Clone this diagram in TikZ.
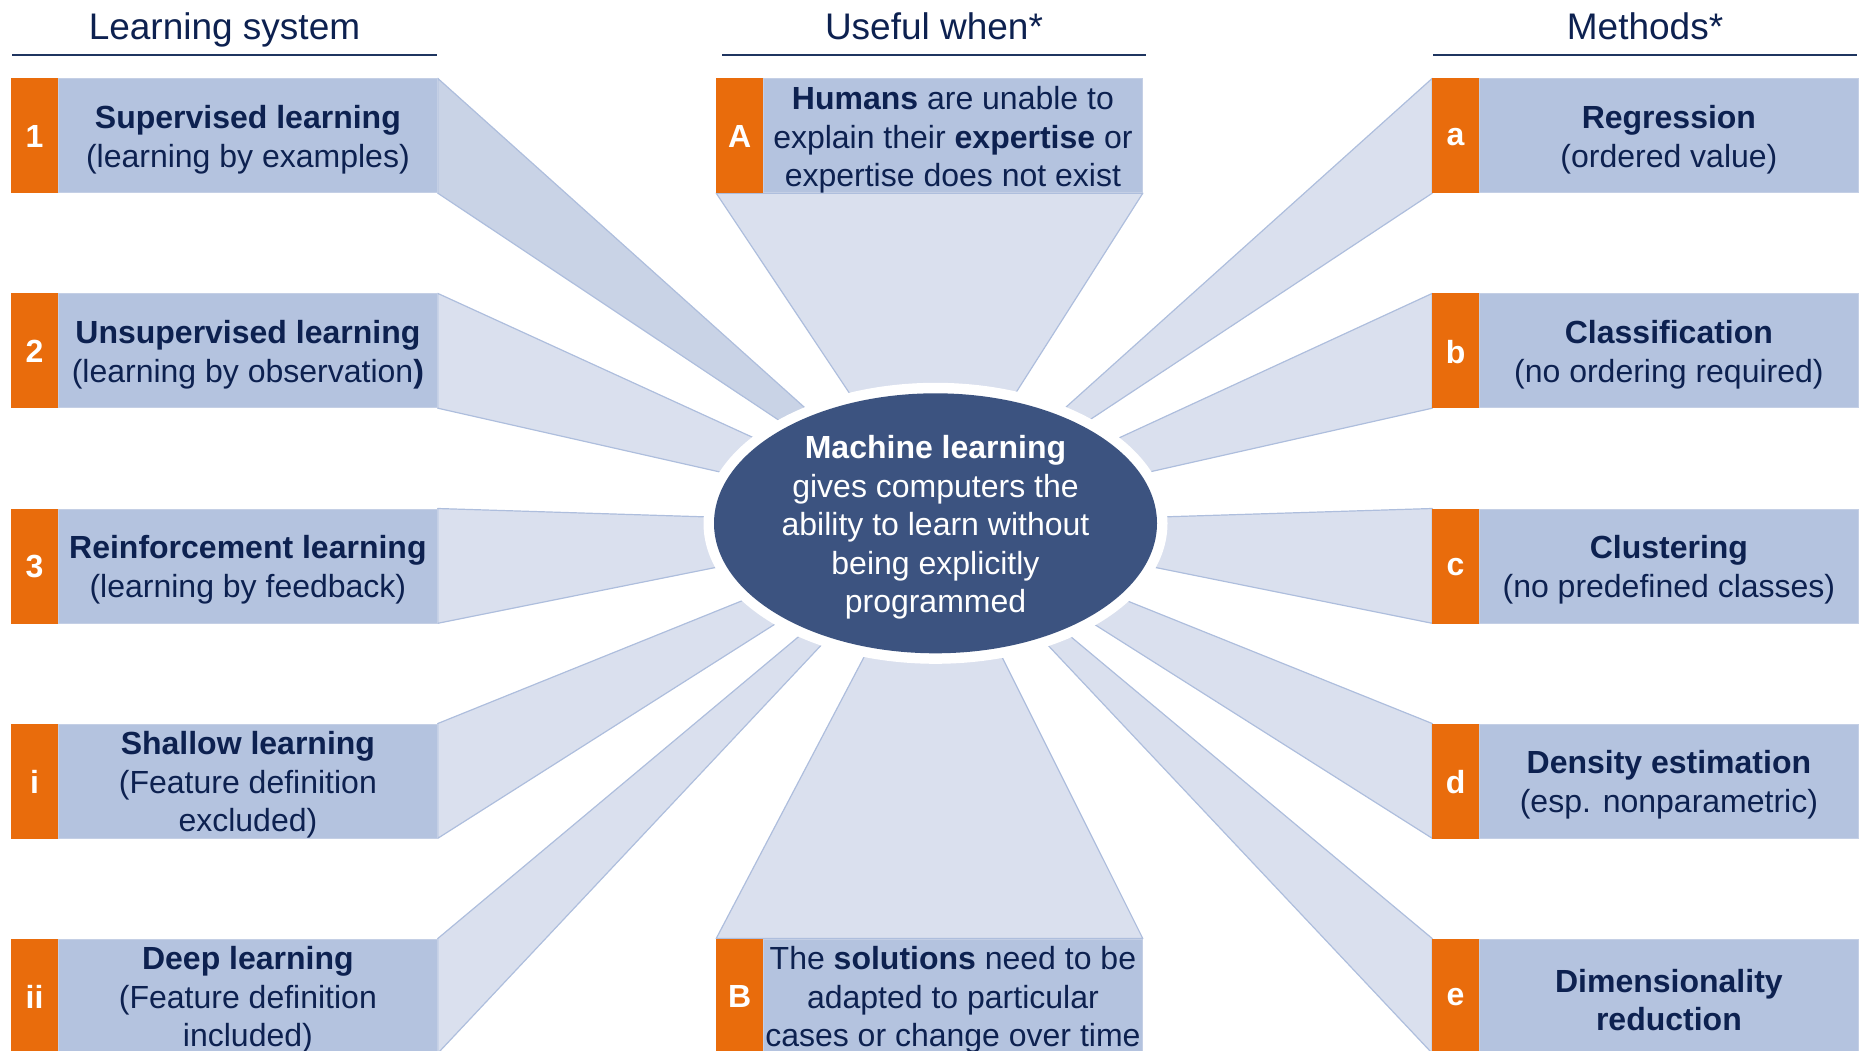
\documentclass[tikz,border=0pt]{standalone}
\usepackage{fontspec}
\setmainfont{Liberation Sans}
\usetikzlibrary{calc}

\definecolor{navy}{HTML}{0D2150}
\definecolor{rulecol}{HTML}{1F3560}
\definecolor{boxfill}{HTML}{B4C3DF}
\definecolor{boxedge}{HTML}{C4CFE5}
\definecolor{tagcol}{HTML}{E96C0C}
\definecolor{rayfill}{HTML}{DAE0EE}
\definecolor{raydark}{HTML}{C9D3E6}
\definecolor{rayedge}{HTML}{AEBEDD}
\definecolor{core}{HTML}{3C5380}

\pgfdeclarelayer{rays}
\pgfsetlayers{rays,main}

\begin{document}
\begin{tikzpicture}[x=1pt,y=-1pt,
  txt/.style={font=\fontsize{32}{38.5}\selectfont, text=navy, align=center, inner sep=0pt},
  body/.style={rectangle, fill=boxfill, draw=boxedge, line width=0.8pt,
    minimum width=379pt, minimum height=114pt, inner sep=0pt, anchor=north west},
  tagbox/.style={rectangle, fill=tagcol, draw=tagcol, line width=0.8pt,
    minimum width=46pt, minimum height=114pt, inner sep=0pt, anchor=north east},
  tagtxt/.style={text=white, font=\fontsize{32}{38.5}\selectfont\bfseries, inner sep=0pt},
  ray/.style={fill=rayfill, draw=rayedge, line width=1.2pt, line join=round},
  darkray/.style={ray, fill=raydark},
  head/.style={font=\fontsize{37}{44}\selectfont, text=navy, anchor=base},
  headrule/.style={draw=rulecol, line width=2pt}
]
\useasboundingbox (0,0) rectangle (1863,1051);

% ---------- column headings ----------
\node[head] (hL) at (224.5,39.3) {Learning system};
\node[head] (hM) at (934,39.3) {Useful when*};
\node[head] (hR) at (1645,39.3) {Methods*};
\draw[headrule] (12,54.6) -- (437,54.6);
\draw[headrule] (722,54.6) -- (1146,54.6);
\draw[headrule] (1433,54.6) -- (1857,54.6);

% ---------- boxes: orange tag + blue body ----------
\path
  (58,78.4)    node[tagbox] (t1) {}  node[body] (b1) {}
  (58,293.4)   node[tagbox] (t2) {}  node[body] (b2) {}
  (58,508.5)   node[tagbox] (t3) {}  node[body] (b3) {}
  (58,723.5)   node[tagbox] (ti) {}  node[body] (bi) {}
  (58,938.5)   node[tagbox] (tii) {} node[body] (bii) {}
  (763,78.4)   node[tagbox] (tA) {}  node[body] (bA) {}
  (763,938.5)  node[tagbox] (tB) {}  node[body] (bB) {}
  (1479,78.4)  node[tagbox] (ta) {}  node[body] (ba) {}
  (1479,293.4) node[tagbox] (tb) {}  node[body] (bb) {}
  (1479,508.5) node[tagbox] (tc) {}  node[body] (bc) {}
  (1479,723.5) node[tagbox] (td) {}  node[body] (bd) {}
  (1479,938.5) node[tagbox] (te) {}  node[body] (be) {};

% tag letters
\foreach \n/\s in {t1/1,t2/2,t3/3,ti/i,tii/ii,tA/A,tB/B,ta/a,tb/b,tc/c,td/d,te/e}
  \node[tagtxt] at ([yshift=-1pt]\n.center) {\s};

% box texts
\node[txt] at ([yshift=-4pt]b1.center) {\textbf{Supervised learning}\\(learning by examples)};
\node[txt] at ([yshift=-4pt]b2.center) {\textbf{Unsupervised learning}\\(learning by observation\textbf{)}};
\node[txt] at ([yshift=-4pt]b3.center) {\textbf{Reinforcement learning}\\(learning by feedback)};
\node[txt] at ([yshift=-4pt]bi.center) {\textbf{Shallow learning}\\(Feature definition\\excluded)};
\node[txt] at ([yshift=-4pt]bii.center) {\textbf{Deep learning}\\(Feature definition\\included)};
\node[txt] at ([yshift=-4pt]bA.center) {\textbf{Humans} are unable to\\explain their \textbf{expertise} or\\expertise does not exist};
\node[txt] at ([yshift=-4pt]bB.center) {The \textbf{solutions} need to be\\adapted to particular\\cases or change over time};
\node[txt] at ([yshift=-4pt]ba.center) {\textbf{Regression}\\(ordered value)};
\node[txt] at ([yshift=-4pt]bb.center) {\textbf{Classification}\\(no ordering required)};
\node[txt] at ([yshift=-4pt]bc.center) {\textbf{Clustering}\\(no predefined classes)};
\node[txt] at ([yshift=-4pt]bd.center) {\textbf{Density estimation}\\(esp. nonparametric)};
\node[txt] at ([yshift=-4pt]be.center) {\textbf{Dimensionality}\\\textbf{reduction}};

% ---------- ray ends at the rim of the central ellipse ----------
\coordinate (e1t) at (804,407);      \coordinate (e1b) at (777,419);
\coordinate (e2t) at (750.8,436.5);  \coordinate (e2b) at (720,472);
\coordinate (e3t) at (703,516.8);    \coordinate (e3b) at (713,568);
\coordinate (eit) at (739,602);      \coordinate (eib) at (772,626);
\coordinate (eiit) at (797,638);     \coordinate (eiib) at (819,647.5);
\coordinate (eAl) at (848,391);      \coordinate (eAr) at (1017,391);
\coordinate (eBl) at (863,659);      \coordinate (eBr) at (1003,659);
\coordinate (eat) at (1066.7,406.5); \coordinate (eab) at (1091,419);
\coordinate (ebt) at (1121,437);     \coordinate (ebb) at (1151,471.6);
\coordinate (ect) at (1166.6,516.8); \coordinate (ecb) at (1158,568);
\coordinate (edt) at (1130,602);     \coordinate (edb) at (1097,626);
\coordinate (eet) at (1072.7,638.3); \coordinate (eeb) at (1050,647.4);

% ---------- rays, behind the boxes ----------
\begin{pgfonlayer}{rays}
\draw[darkray] (b1.north east) -- ($(b1.north east)!1.1!(e1t)$) -- ($(b1.south east)!1.1!(e1b)$) -- (b1.south east) -- cycle;
\draw[ray] (b2.north east) -- ($(b2.north east)!1.1!(e2t)$) -- ($(b2.south east)!1.1!(e2b)$) -- (b2.south east) -- cycle;
\draw[ray] (b3.north east) -- ($(b3.north east)!1.1!(e3t)$) -- ($(b3.south east)!1.1!(e3b)$) -- (b3.south east) -- cycle;
\draw[ray] (bi.north east) -- ($(bi.north east)!1.1!(eit)$) -- ($(bi.south east)!1.1!(eib)$) -- (bi.south east) -- cycle;
\draw[ray] (bii.north east) -- ($(bii.north east)!1.1!(eiit)$) -- ($(bii.south east)!1.1!(eiib)$) -- (bii.south east) -- cycle;
\draw[ray] (tA.south west) -- ($(tA.south west)!1.1!(eAl)$) -- ($(bA.south east)!1.1!(eAr)$) -- (bA.south east) -- cycle;
\draw[ray] (tB.north west) -- ($(tB.north west)!1.1!(eBl)$) -- ($(bB.north east)!1.1!(eBr)$) -- (bB.north east) -- cycle;
\draw[ray] (ta.north west) -- ($(ta.north west)!1.1!(eat)$) -- ($(ta.south west)!1.1!(eab)$) -- (ta.south west) -- cycle;
\draw[ray] (tb.north west) -- ($(tb.north west)!1.1!(ebt)$) -- ($(tb.south west)!1.1!(ebb)$) -- (tb.south west) -- cycle;
\draw[ray] (tc.north west) -- ($(tc.north west)!1.1!(ect)$) -- ($(tc.south west)!1.1!(ecb)$) -- (tc.south west) -- cycle;
\draw[ray] (td.north west) -- ($(td.north west)!1.1!(edt)$) -- ($(td.south west)!1.1!(edb)$) -- (td.south west) -- cycle;
\draw[ray] (te.north west) -- ($(te.north west)!1.1!(eet)$) -- ($(te.south west)!1.1!(eeb)$) -- (te.south west) -- cycle;
\end{pgfonlayer}

% ---------- central ellipse with its white rim ----------
\coordinate (mlc) at (935.5,523.3);
\fill[white] (mlc) ellipse [x radius=232, y radius=140.5];
\fill[core] (mlc) ellipse [x radius=221.5, y radius=130];
\node[txt, text=white] (ml) at ([yshift=-4pt]mlc)
  {\textbf{Machine learning}\\gives computers the\\ability to learn without\\being explicitly\\programmed};
\end{tikzpicture}
\end{document}
